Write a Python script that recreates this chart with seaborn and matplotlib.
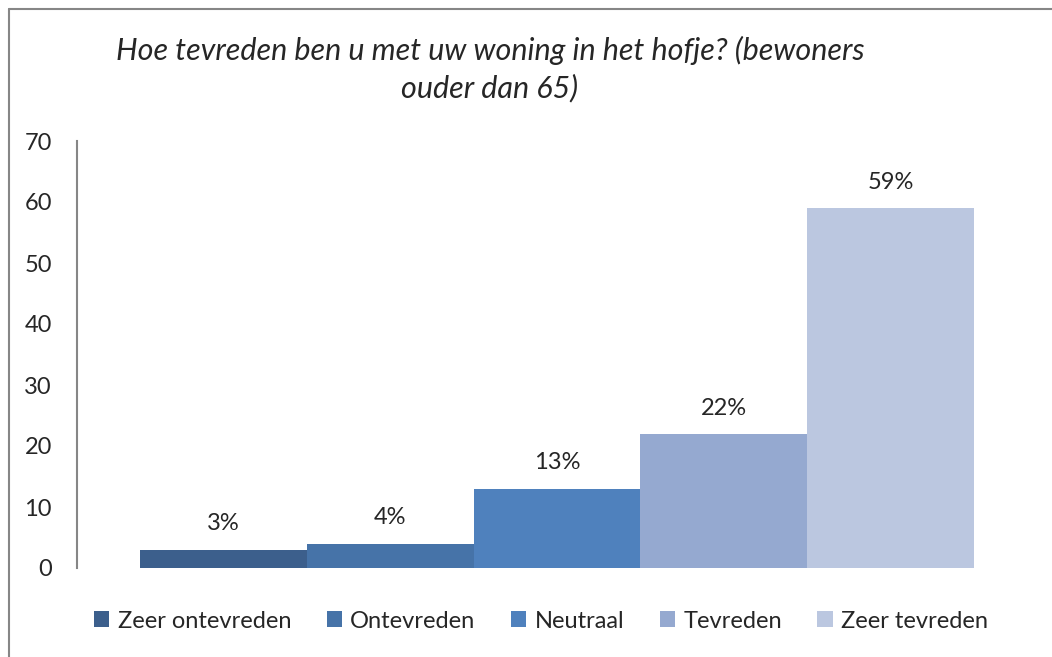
import matplotlib
matplotlib.use('Agg')
import matplotlib.pyplot as plt
import seaborn as sns
from matplotlib.lines import Line2D
from matplotlib.patches import Patch

# Data
categories = ['Zeer ontevreden', 'Ontevreden', 'Neutraal', 'Tevreden', 'Zeer tevreden']
values = [3, 4, 13, 22, 59]
labels = ['3%', '4%', '13%', '22%', '59%']
colors = ['#3C5F8C', '#4673A8', '#4F81BD', '#95A9D0', '#BBC7E0']

sns.set_style('white')
plt.rcParams['font.family'] = ['Lato', 'DejaVu Sans']

fig = plt.figure(figsize=(10.52, 6.57), dpi=100)
ax = fig.add_axes([77 / 1052, 1 - 568 / 657, 960 / 1052, 427 / 657])

sns.barplot(x=categories, y=values, hue=categories, palette=colors,
            width=1.0, saturation=1, linewidth=0, legend=False, ax=ax)

for i, c in enumerate(ax.containers):
    ax.bar_label(c, labels=[labels[i]], padding=11, fontsize=17)

ax.set_ylim(0, 70)
ax.set_yticks(range(0, 71, 10))
ax.set_xlim(-0.878, 4.878)
ax.set_xticks([])
ax.tick_params(axis='y', labelsize=17, length=0, pad=18)
for side in ['top', 'right', 'bottom']:
    ax.spines[side].set_visible(False)
ax.spines['left'].set_color('#868686')
ax.spines['left'].set_linewidth(1.5)
ax.set_xlabel('')
ax.set_ylabel('')

# legend
handles = [Patch(facecolor=col, edgecolor='none') for col in colors]
fig.legend(handles, categories, loc='center', bbox_to_anchor=(541 / 1052, 1 - 621 / 657),
           ncol=5, frameon=False, fontsize=17, handlelength=0.65, handleheight=0.65,
           handletextpad=0.35, columnspacing=1.5)

# title
fig.text(490 / 1052, 1 - 50 / 657, 'Hoe tevreden ben u met uw woning in het hofje? (bewoners',
         ha='center', va='center', fontsize=22, style='italic')
fig.text(490 / 1052, 1 - 88 / 657, 'ouder dan 65)',
         ha='center', va='center', fontsize=22, style='italic')

# chart border (left and top visible)
fig.add_artist(Line2D([8.5 / 1052, 8.5 / 1052], [0, 1 - 9 / 657], transform=fig.transFigure,
                      color='#868686', lw=1.5))
fig.add_artist(Line2D([8.5 / 1052, 1], [1 - 9 / 657, 1 - 9 / 657], transform=fig.transFigure,
                      color='#868686', lw=1.5))

fig.savefig('out.png', dpi=100)
